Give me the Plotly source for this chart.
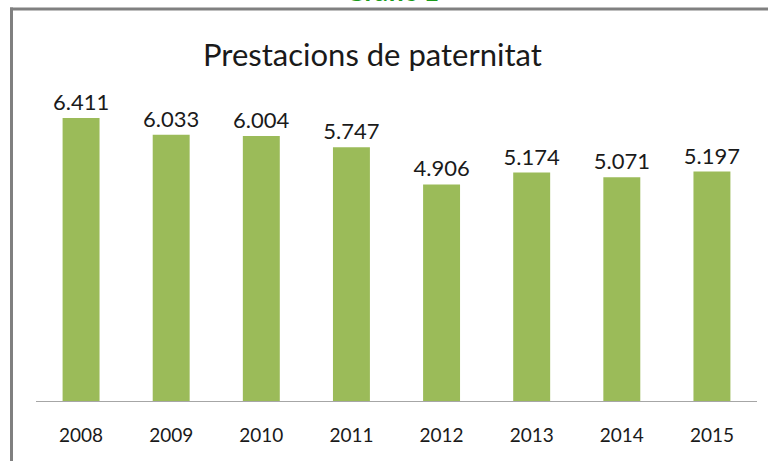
import plotly.graph_objects as go

years = ["2008", "2009", "2010", "2011", "2012", "2013", "2014", "2015"]
values = [6411, 6033, 6004, 5747, 4906, 5174, 5071, 5197]
labels = ["6.411", "6.033", "6.004", "5.747", "4.906", "5.174", "5.071", "5.197"]
title_text = "Prestacions de paternitat"
header_text = "Gràfic 1"

W, H = 768, 461
L, R, T, B = 36, 11, 92, 60
pw, ph = W - L - R, H - T - B

def px(x):
    return (x - L) / pw

def py(y):
    return (H - B - y) / ph

FONT = "Lato"

fig = go.Figure(go.Bar(
    x=years, y=values, text=labels, textposition="outside",
    constraintext="none",
    marker=dict(color="#9BBB59", line=dict(width=0)),
    textfont=dict(family=FONT, size=22, color="#1a1a1a"),
    cliponaxis=False, width=0.41,
))

fig.update_layout(
    width=W, height=H,
    margin=dict(l=L, r=R, t=T, b=B),
    paper_bgcolor="white", plot_bgcolor="white",
    showlegend=False,
    xaxis=dict(showline=True, linecolor="#a6a6a6", linewidth=1, ticks="",
               tickfont=dict(family=FONT, size=19, color="#1a1a1a"),
               ticklabelstandoff=17, showgrid=False, zeroline=False),
    yaxis=dict(range=[0, 7000], visible=False, showgrid=False, zeroline=False),
    shapes=[
        dict(type="line", xref="paper", yref="paper", x0=px(11.5), x1=px(11.5), y0=py(7.5), y1=py(470),
             line=dict(color="#808080", width=3)),
        dict(type="line", xref="paper", yref="paper", x0=px(10), x1=px(768), y0=py(9), y1=py(9),
             line=dict(color="#808080", width=3)),
    ],
    annotations=[
        dict(text=title_text, xref="paper", yref="paper", x=px(372), y=py(54),
             xanchor="center", yanchor="middle", showarrow=False,
             font=dict(family=FONT, size=31, color="#1a1a1a")),
        dict(text="<b>" + header_text + "</b>", xref="paper", yref="paper", x=px(392), y=py(9.5),
             xanchor="center", yanchor="bottom", showarrow=False,
             font=dict(family=FONT, size=27, color="#1a9a1a")),
    ],
)

fig.write_html("out.html", config={"displayModeBar": False},
               post_script="document.body.style.margin='0';document.body.style.overflow='hidden';")
